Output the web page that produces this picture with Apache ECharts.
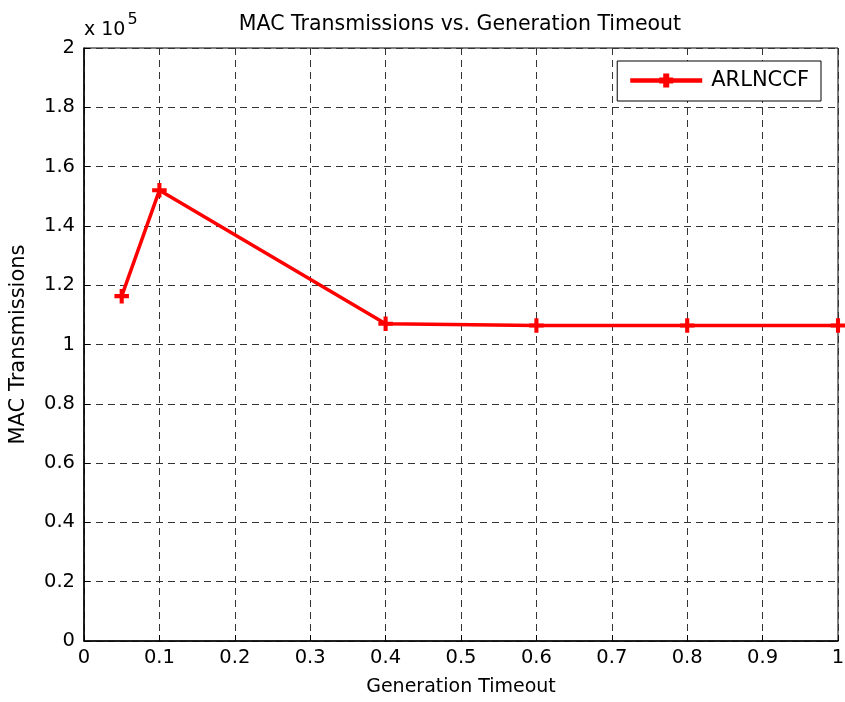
<!DOCTYPE html>
<html><head><meta charset="utf-8">
<script src="https://cdn.jsdelivr.net/npm/echarts@6/dist/echarts.min.js"></script>
<style>html,body{margin:0;padding:0;background:#fff}#c{width:845px;height:702px}</style>
</head><body><div id="c"></div>
<script>
var timeouts = [0.05, 0.1, 0.4, 0.6, 0.8, 1.0];
var macTransmissions = [116300, 152000, 107000, 106400, 106400, 106400];
var seriesName = 'ARLNCCF';
var xTickLabels = ['0','0.1','0.2','0.3','0.4','0.5','0.6','0.7','0.8','0.9','1'];
var yTickLabels = ['0','0.2','0.4','0.6','0.8','1','1.2','1.4','1.6','1.8','2'];

var plus = 'path://M-1,-5 L1,-5 L1,-1 L5,-1 L5,1 L1,1 L1,5 L-1,5 L-1,1 L-5,1 L-5,-1 L-1,-1 Z';
var legendIcon = 'path://M0,5.7 L70,5.7 L70,8.3 L0,8.3 Z M33,1 L37,1 L37,13 L33,13 Z M29,5 L41,5 L41,9 L29,9 Z';
var font = 'DejaVu Sans, sans-serif';
var chart = echarts.init(document.getElementById('c'), null, {renderer:'canvas'});
var data = timeouts.map(function(x,i){return [x, macTransmissions[i]];});
chart.setOption({
  animation:false,
  backgroundColor:'#fff',
  title:{text:'MAC Transmissions vs. Generation Timeout', left:455, top:9, textAlign:'center',
    textStyle:{fontFamily:font, fontSize:20.5, fontWeight:'normal', color:'#000'}},
  grid:{left:84, top:48, right:7, bottom:61, show:true, borderColor:'#000', borderWidth:1,
    containLabel:false, outerBoundsMode:'none'},
  legend:{right:24, top:61, orient:'vertical', itemWidth:70, itemHeight:14, itemGap:0,
    padding:[9,12,10,13], borderColor:'#000', borderWidth:1, backgroundColor:'#fff',
    textStyle:{fontFamily:font, fontSize:21, color:'#000', padding:[0,0,0,5]},
    data:[{name:seriesName, icon: legendIcon, itemStyle:{color:'#ff0000'}}]},
  xAxis:{type:'value', min:0, max:1, interval:0.1,
    name:'Generation Timeout', nameLocation:'middle', nameGap:37,
    nameTextStyle:{fontFamily:font, fontSize:19, color:'#000'},
    axisLine:{show:true, lineStyle:{color:'#000', width:1.5}},
    axisTick:{show:true, inside:true, length:6, lineStyle:{color:'#000'}},
    axisLabel:{fontFamily:font, fontSize:19.5, color:'#000', margin:7,
      formatter:function(v){return xTickLabels[Math.round(v*10)];}},
    splitLine:{show:true, lineStyle:{color:'#333', type:[7,5], width:1}}},
  yAxis:{type:'value', min:0, max:200000, interval:20000,
    name:'MAC Transmissions', nameLocation:'middle', nameGap:55, nameRotate:90,
    nameTextStyle:{fontFamily:font, fontSize:21, color:'#000'},
    axisLine:{show:true, lineStyle:{color:'#000', width:1.5}},
    axisTick:{show:true, inside:true, length:6, lineStyle:{color:'#000'}},
    axisLabel:{fontFamily:font, fontSize:19.5, color:'#000', margin:9,
      formatter:function(v){return yTickLabels[Math.round(v/20000)];}},
    splitLine:{show:true, lineStyle:{color:'#333', type:[7,5], width:1}}},
  graphic:[{type:'text', left:84, top:12, style:{
    rich:{a:{fontFamily:font, fontSize:19, fill:'#000', verticalAlign:'bottom', padding:[9,0,0,0]},
          s:{fontFamily:font, fontSize:16, fill:'#000', verticalAlign:'top', padding:[0,0,10,2]}},
    text:'{a|x 10}{s|5}'}}],
  series:[{name:seriesName, type:'line', data:data, color:'#ff0000',
    lineStyle:{width:3.5, color:'#ff0000'}, symbol:plus, symbolSize:13,
    itemStyle:{color:'#ff0000', borderColor:'#ff0000', borderWidth:1.5}, clip:false}]
});
</script></body></html>
